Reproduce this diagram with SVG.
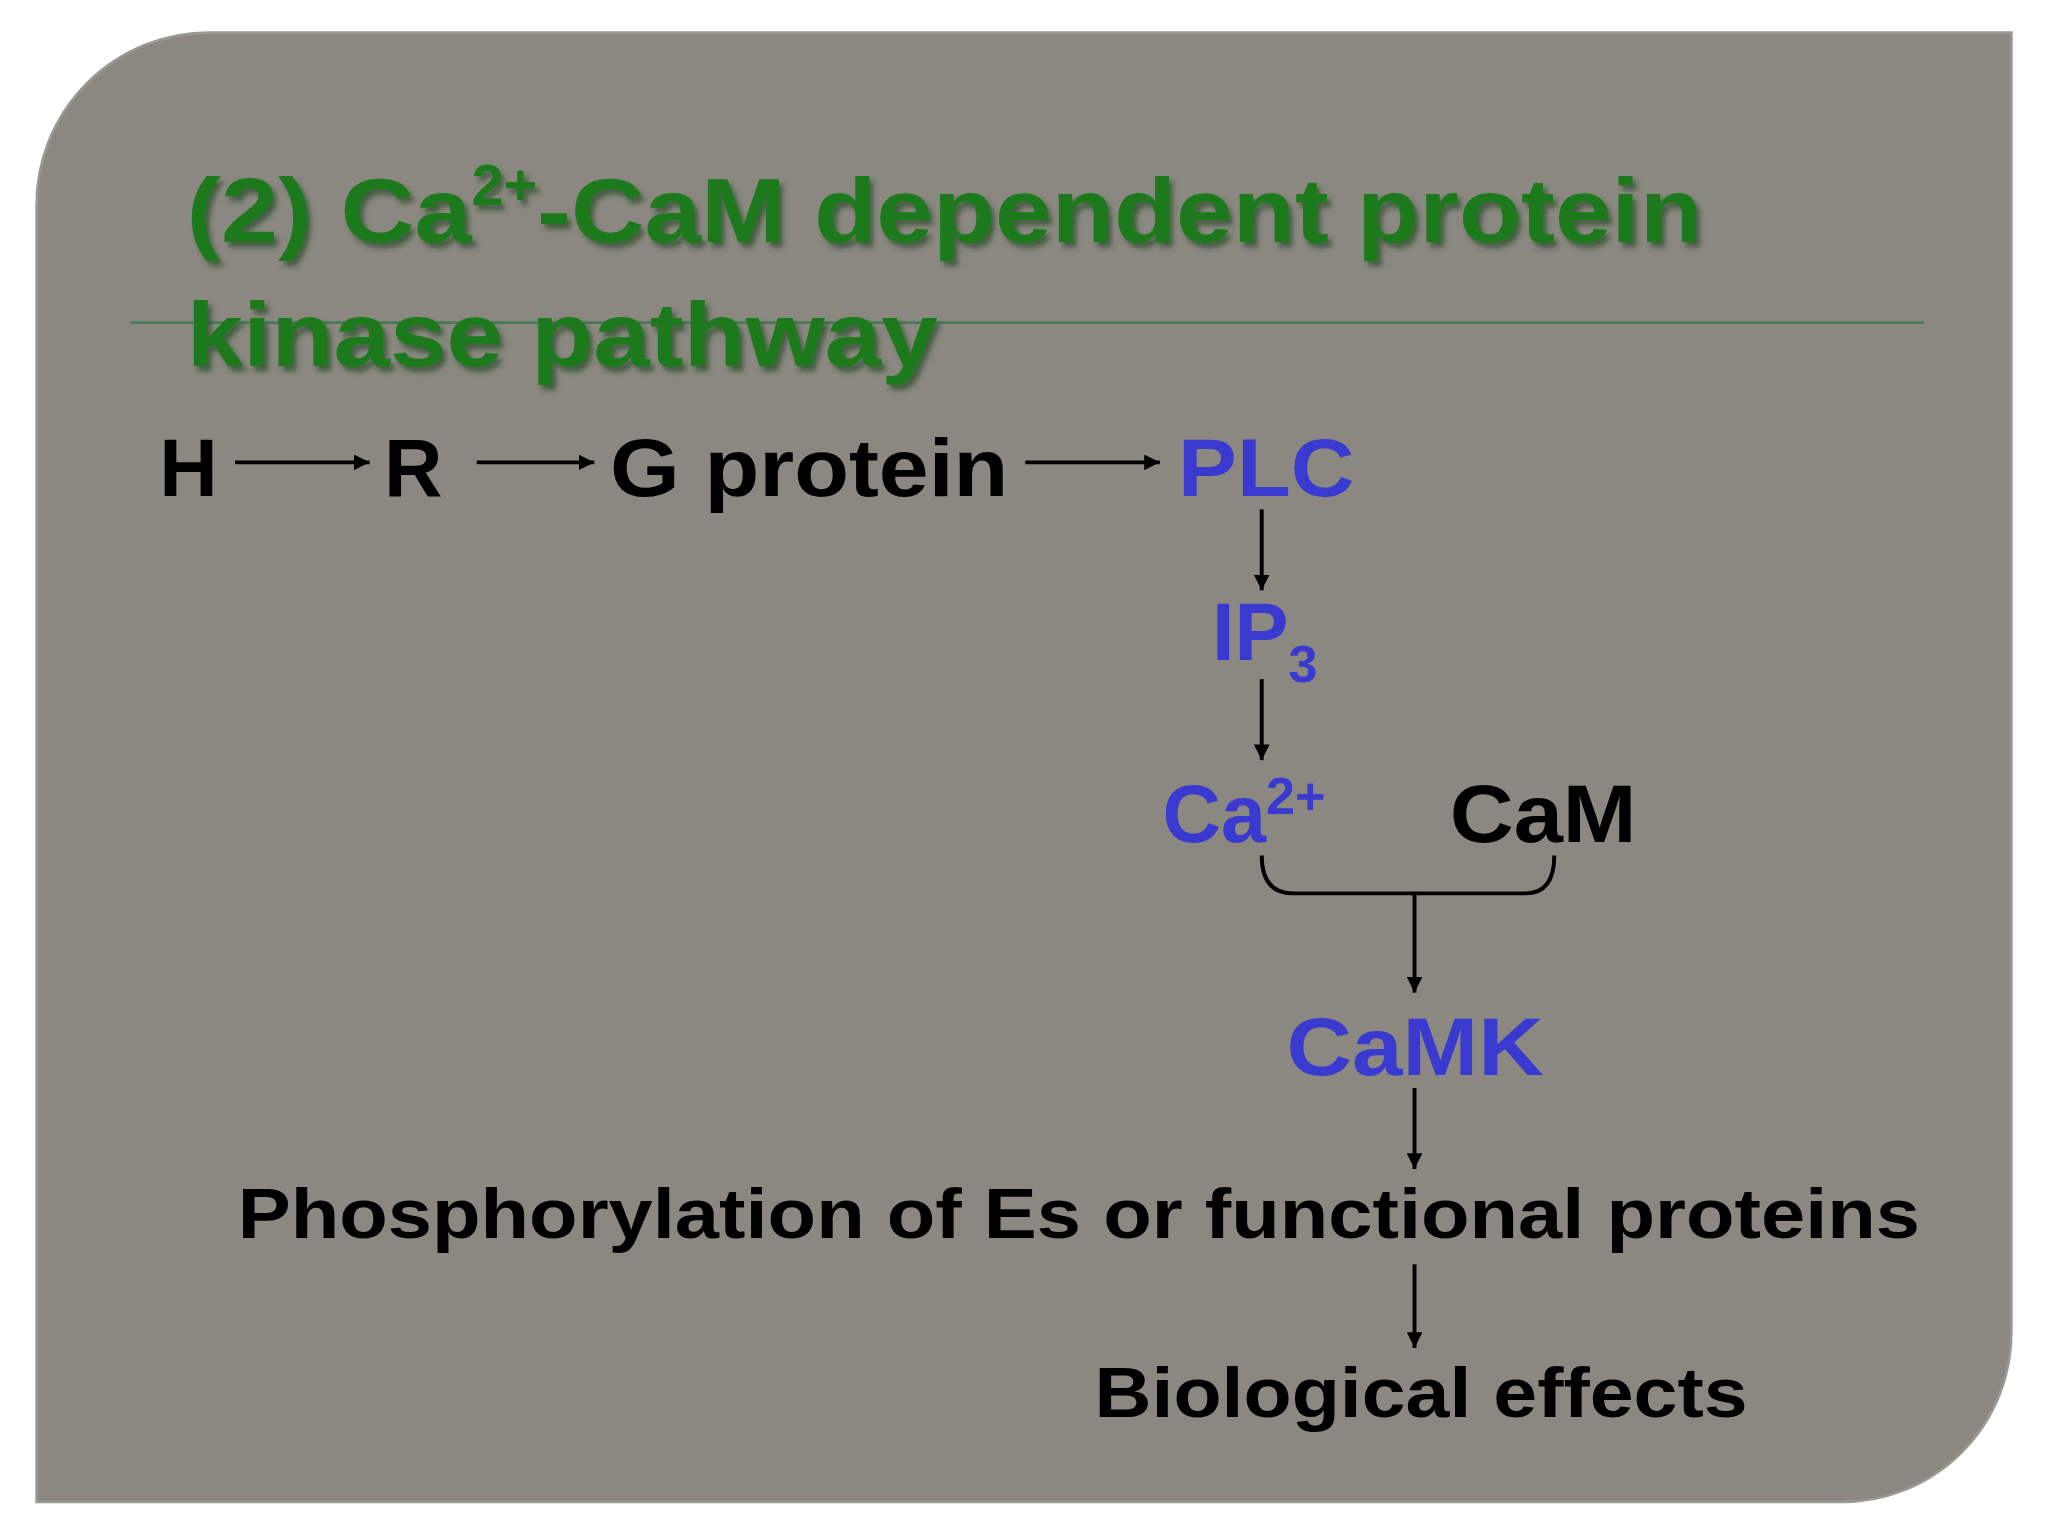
<svg xmlns="http://www.w3.org/2000/svg" width="2048" height="1536" viewBox="0 0 2048 1536">
<style>
.t{font-family:"Liberation Sans",Arial,sans-serif;font-weight:bold}
.k{fill:#000}
.b{fill:#3a3ad0}
.c{stroke:#000;stroke-width:3;fill:none}
</style>
<defs>
<marker id="a" viewBox="0 0 10 10" refX="10" refY="5" markerWidth="4" markerHeight="4" orient="auto"><path d="M0,0L10,5L0,10z" fill="#000"/></marker>
<filter id="sh" x="-5%" y="-20%" width="110%" height="150%"><feDropShadow dx="3" dy="4" stdDeviation="2" flood-color="#2a4a2a" flood-opacity="0.7"/></filter>
</defs>
<rect width="2048" height="1536" fill="#fff"/>
<g transform="scale(1.30612)">
<path d="M160,25H1540V1020A130,130 0 0 1 1410,1150H28V157A132,132 0 0 1 160,25z" fill="#8a8880" stroke="#9a9a94" stroke-width="2"/>
<line x1="100" y1="247" x2="1473" y2="247" stroke="#4a7a5a" stroke-width="2"/>
<g id="title" class="t" font-size="70" fill="#1e7a1e" filter="url(#sh)">
<text x="143" y="185"><tspan textLength="218" lengthAdjust="spacingAndGlyphs">(2) Ca</tspan><tspan font-size="44" dy="-28">2+</tspan><tspan dy="28" textLength="892" lengthAdjust="spacingAndGlyphs">-CaM dependent protein</tspan></text>
<text x="143" y="280" textLength="575" lengthAdjust="spacingAndGlyphs">kinase pathway</text>
</g>
<g id="H"><text class="t k" x="122" y="380" font-size="62">H</text></g>
<g id="R"><text class="t k" x="294" y="380" font-size="62">R</text></g>
<g id="G"><text class="t k" x="467" y="380" font-size="62" textLength="305" lengthAdjust="spacingAndGlyphs">G protein</text></g>
<g id="PLC"><text class="t b" x="902" y="380" font-size="62" textLength="135" lengthAdjust="spacingAndGlyphs">PLC</text></g>
<g id="IP3"><text class="t b" x="928" y="505" font-size="62">IP<tspan font-size="40" dy="17">3</tspan></text></g>
<g id="Ca"><text class="t b" x="890" y="645" font-size="62" >Ca<tspan font-size="40" dy="-22">2+</tspan></text></g>
<g id="CaM"><text class="t k" x="1110" y="645" font-size="62" textLength="143" lengthAdjust="spacingAndGlyphs">CaM</text></g>
<g id="CaMK"><text class="t b" x="985" y="823" font-size="62" textLength="197" lengthAdjust="spacingAndGlyphs">CaMK</text></g>
<g id="Phos"><text class="t k" x="182" y="948" font-size="54" textLength="1288" lengthAdjust="spacingAndGlyphs">Phosphorylation of Es or functional proteins</text></g>
<g id="Bio"><text class="t k" x="838" y="1085" font-size="54" textLength="500" lengthAdjust="spacingAndGlyphs">Biological effects</text></g>
<g id="connectors">
<line class="c" x1="180" y1="354" x2="283" y2="354" marker-end="url(#a)"/>
<line class="c" x1="365" y1="354" x2="455" y2="354" marker-end="url(#a)"/>
<line class="c" x1="785" y1="354" x2="888" y2="354" marker-end="url(#a)"/>
<line class="c" x1="966" y1="390" x2="966" y2="452" marker-end="url(#a)"/>
<line class="c" x1="966" y1="520" x2="966" y2="582" marker-end="url(#a)"/>
<path class="c" d="M966,655Q966,684 990,684H1168Q1190,684 1190,655"/>
<line class="c" x1="1083" y1="684" x2="1083" y2="760" marker-end="url(#a)"/>
<line class="c" x1="1083" y1="833" x2="1083" y2="895" marker-end="url(#a)"/>
<line class="c" x1="1083" y1="968" x2="1083" y2="1032" marker-end="url(#a)"/>
</g>
</g>
</svg>
